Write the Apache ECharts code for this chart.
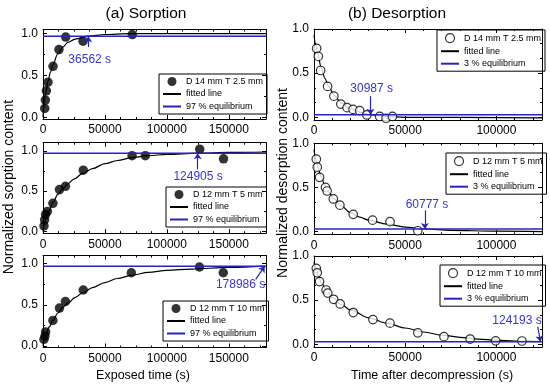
<!DOCTYPE html>
<html><head><meta charset="utf-8">
<script src="https://cdn.jsdelivr.net/npm/echarts@6/dist/echarts.min.js"></script>
<style>html,body{margin:0;padding:0;background:#fff}#c{width:550px;height:388px}</style>
</head><body><div id="c"></div>
<script>
// ---------- DATA ----------
const seriesNames = ['D 14 mm T 2.5 mm', 'D 12 mm T 5 mm', 'D 12 mm T 10 mm'];
const sorpEqName = '97 % equilibrium';
const desEqName = '3 % equilibrium';
const fitName = 'fitted line';
const sorpEqLevel = 0.97;
const desEqLevel = 0.03;
const sorpEqTimes = [36562, 124905, 178986];
const desEqTimes = [30987, 60777, 124193];

// (a) Sorption, D 14 mm T 2.5 mm
const sorp1T = [1400, 1900, 2700, 4000, 8100, 12900, 18300, 32300, 72100];
const sorp1Y = [0.107, 0.206, 0.317, 0.42, 0.61, 0.81, 0.96, 0.91, 0.99];
const sorp1FitT = [0, 1000, 2000, 4000, 6000, 8000, 12000, 16000, 20000, 26000, 36562, 50000, 70000, 180000];
const sorp1FitY = [0, 0.17, 0.28, 0.43, 0.54, 0.63, 0.76, 0.84, 0.895, 0.935, 0.97, 0.99, 1.0, 1.0];

// (a) Sorption, D 12 mm T 5 mm
const sorp2T = [800, 1300, 2100, 3500, 8000, 13300, 18100, 32500, 71900, 82600, 126500, 145700];
const sorp2Y = [0.07, 0.145, 0.21, 0.25, 0.35, 0.52, 0.56, 0.76, 0.94, 0.94, 1.02, 0.90];
const sorp2FitT = [0, 1000, 2500, 5000, 8000, 12000, 16000, 20000, 25000, 32000, 40000, 50000, 60000, 72000, 85000, 100000, 124905, 150000, 180000];
const sorp2FitY = [0, 0.08, 0.16, 0.26, 0.36, 0.46, 0.53, 0.59, 0.65, 0.72, 0.78, 0.84, 0.88, 0.915, 0.94, 0.955, 0.97, 0.98, 0.985];

// (a) Sorption, D 12 mm T 10 mm
const sorp3T = [800, 1600, 2100, 8000, 13300, 18100, 32500, 71300, 126300, 145500];
const sorp3Y = [0.08, 0.12, 0.17, 0.31, 0.46, 0.54, 0.68, 0.89, 0.96, 0.89];
const sorp3FitT = [0, 1000, 2500, 5000, 8000, 12000, 16000, 20000, 26000, 32500, 40000, 50000, 60000, 72000, 85000, 100000, 120000, 150000, 178986];
const sorp3FitY = [0, 0.07, 0.14, 0.23, 0.31, 0.40, 0.47, 0.52, 0.59, 0.65, 0.71, 0.77, 0.82, 0.86, 0.895, 0.92, 0.935, 0.955, 0.97];

// (b) Desorption, D 14 mm T 2.5 mm
const des1T = [1450, 2360, 3630, 7440, 10890, 14700, 18150, 21400, 25050, 29000, 36000, 39500, 43000];
const des1Y = [0.78, 0.69, 0.53, 0.35, 0.24, 0.15, 0.11, 0.09, 0.076, 0.027, 0.01, -0.01, 0.01];
const des1FitT = [0, 1000, 2000, 4000, 6000, 8000, 11000, 15000, 20000, 25000, 30987, 40000, 50000, 125000];
const des1FitY = [0.93, 0.82, 0.72, 0.56, 0.44, 0.35, 0.25, 0.16, 0.10, 0.06, 0.03, 0.01, 0.0, -0.005];

// (b) Desorption, D 12 mm T 5 mm
const des2T = [1260, 1800, 3050, 6300, 7200, 10600, 14200, 21500, 32100, 41700, 56900];
const des2Y = [0.82, 0.73, 0.615, 0.50, 0.46, 0.37, 0.30, 0.196, 0.13, 0.113, 0.01];
const des2FitT = [0, 1000, 2000, 4000, 6000, 8000, 11000, 15000, 20000, 25000, 30000, 40000, 50000, 60777, 75000, 100000, 125000];
const des2FitY = [0.93, 0.82, 0.73, 0.62, 0.52, 0.45, 0.37, 0.29, 0.215, 0.165, 0.13, 0.085, 0.052, 0.03, 0.015, 0.005, 0.0];

// (b) Desorption, D 12 mm T 10 mm
const des3T = [1260, 1800, 3050, 6640, 7540, 10770, 14360, 21540, 32300, 41650, 56900, 71250, 85600, 99600, 114000];
const des3Y = [0.86, 0.81, 0.71, 0.615, 0.58, 0.51, 0.457, 0.36, 0.28, 0.24, 0.13, 0.087, 0.06, 0.04, 0.038];
const des3FitT = [0, 1000, 2000, 4000, 7000, 10000, 15000, 20000, 30000, 40000, 50000, 60000, 70000, 80000, 90000, 100000, 110000, 124193];
const des3FitY = [0.93, 0.86, 0.79, 0.70, 0.60, 0.53, 0.45, 0.39, 0.30, 0.24, 0.185, 0.14, 0.105, 0.08, 0.06, 0.047, 0.037, 0.03];

// ---------- LAYOUT ----------
const FN = "'Liberation Sans',Arial,sans-serif";
const BLUE = '#2424c4';
const BLUE_TXT = '#3535d6';

const zip = (a, b) => a.map((v, i) => [v, b[i]]);

const panels = [
  {g:{left:43,top:29.5,width:223,height:89.5}, xMax:180000, yMin:-0.02, yMax:1.05, leg:{left:159,top:74},
   pts:zip(sorp1T,sorp1Y), fit:zip(sorp1FitT,sorp1FitY), name:seriesNames[0], filled:true, eq:sorpEqLevel, eqName:sorpEqName, eqT:sorpEqTimes[0],
   annText:[37700,0.69], arrowFrom:[36562,0.84]},
  {g:{left:43,top:142.7,width:223,height:90.5}, xMax:180000, yMin:-0.02, yMax:1.1, leg:{left:166,top:187},
   pts:zip(sorp2T,sorp2Y), fit:zip(sorp2FitT,sorp2FitY), name:seriesNames[1], filled:true, eq:sorpEqLevel, eqName:sorpEqName, eqT:sorpEqTimes[1],
   annText:[125200,0.68], arrowFrom:[124905,0.77]},
  {g:{left:43,top:255.5,width:223,height:92}, xMax:180000, yMin:-0.02, yMax:1.1, leg:{left:163,top:301},
   pts:zip(sorp3T,sorp3Y), fit:zip(sorp3FitT,sorp3FitY), name:seriesNames[2], filled:true, eq:sorpEqLevel, eqName:sorpEqName, eqT:sorpEqTimes[2],
   annText:[159500,0.74], arrowFrom:[171700,0.81]},
  {g:{left:314,top:29,width:228,height:91}, xMax:125000, yMin:-0.03, yMax:1.0, leg:{left:437,top:30},
   pts:zip(des1T,des1Y), fit:zip(des1FitT,des1FitY), name:seriesNames[0], filled:false, eq:desEqLevel, eqName:desEqName, eqT:desEqTimes[0],
   annText:[31600,0.32], arrowFrom:[30987,0.24]},
  {g:{left:314,top:143.3,width:228,height:91}, xMax:125000, yMin:-0.03, yMax:1.0, leg:{left:446,top:153},
   pts:zip(des2T,des2Y), fit:zip(des2FitT,des2FitY), name:seriesNames[1], filled:false, eq:desEqLevel, eqName:desEqName, eqT:desEqTimes[1],
   annText:[61950,0.31], arrowFrom:[60777,0.24]},
  {g:{left:314,top:256,width:228,height:91}, xMax:125000, yMin:-0.03, yMax:1.0, leg:{left:440,top:265},
   pts:zip(des3T,des3Y), fit:zip(des3FitT,des3FitY), name:seriesNames[2], filled:false, eq:desEqLevel, eqName:desEqName, eqT:desEqTimes[2],
   annText:[111300,0.27], arrowFrom:[122640,0.20]}
];

const grid = [], xAxis = [], yAxis = [], series = [], legend = [];
const axLine = {show:true, onZero:false, lineStyle:{color:'#000', width:1}};
const hidden = {color:'rgba(0,0,0,0)', borderWidth:0};
panels.forEach((p, i) => {
  grid.push(Object.assign({containLabel:false}, p.g));
  const isLeft = i < 3;
  const xBase = {gridIndex:i, type:'value', min:0, max:p.xMax, splitNumber:3, axisLine:axLine,
    axisTick:{show:true, inside:true, length:4, lineStyle:{color:'#000'}},
    minorTick:{show:true, splitNumber:isLeft?4:5, length:2, lineStyle:{color:'#000'}},
    splitLine:{show:false}, minorSplitLine:{show:false}};
  xAxis.push(Object.assign({}, xBase, {position:'bottom',
    axisLabel:{show:true, color:'#000', fontFamily:FN, fontSize:12, margin:5, showMaxLabel:false, formatter:v => String(Math.round(v))}}));
  xAxis.push(Object.assign({}, xBase, {position:'top', axisLabel:{show:false}}));
  const yBase = {gridIndex:i, type:'value', min:p.yMin, max:p.yMax, splitNumber:2, axisLine:axLine,
    axisTick:{show:true, inside:true, length:4, lineStyle:{color:'#000'}},
    minorTick:{show:true, splitNumber:isLeft?2:3, length:2, lineStyle:{color:'#000'}},
    splitLine:{show:false}, minorSplitLine:{show:false}};
  yAxis.push(Object.assign({}, yBase, {position:'left',
    axisLabel:{show:true, color:'#000', fontFamily:FN, fontSize:12, margin:5, showMinLabel:false, showMaxLabel:!isLeft, formatter:v => v.toFixed(1)}}));
  yAxis.push(Object.assign({}, yBase, {position:'right', axisLabel:{show:false}}));

  const xi = i * 2, yi = i * 2;
  const markerStyle = p.filled ? {color:'#000'} : {color:'#fff', borderColor:'#000', borderWidth:1.2};
  series.push({type:'scatter', name:p.name, xAxisIndex:xi, yAxisIndex:yi, data:p.pts,
    symbol:'circle', symbolSize:p.filled?9.5:8.5, itemStyle:markerStyle, z:3, silent:true});
  series.push({type:'line', name:fitName, xAxisIndex:xi, yAxisIndex:yi, data:p.fit,
    smooth:0.35, smoothMonotone:'x', symbol:'none', lineStyle:{color:'#000', width:1.2}, itemStyle:{color:'#000'}, z:2, silent:true});
  series.push({type:'line', name:p.eqName, xAxisIndex:xi, yAxisIndex:yi, data:[[0, p.eq], [p.xMax, p.eq]],
    symbol:'none', lineStyle:{color:BLUE, width:1.4}, itemStyle:{color:BLUE}, z:4, silent:true,
    markLine:{silent:true, symbol:['none','arrow'], symbolSize:6, label:{show:false},
      lineStyle:{color:BLUE, width:1.2, type:'solid'},
      data:[[{coord:p.arrowFrom}, {coord:[p.eqT, p.eq]}]]},
    markPoint:{silent:true, symbol:'circle', symbolSize:0,
      label:{show:true, position:'inside', color:BLUE_TXT, fontFamily:FN, fontSize:12, formatter:'{b}'},
      data:[{name:p.eqT + ' s', coord:p.annText}]}
  });

  legend.push({orient:'vertical', left:p.leg.left, top:p.leg.top, selectedMode:false,
    borderColor:'#000', borderWidth:1, padding:[3,4,3,3], itemGap:3.5, itemWidth:18, itemHeight:9,
    textStyle:{fontFamily:FN, fontSize:9, color:'#000'},
    data:[{name:p.name, icon:'circle', itemStyle:markerStyle},
          {name:fitName, itemStyle:hidden},
          {name:p.eqName, itemStyle:hidden}]});
});

const graphic = [
  {type:'text', x:146, y:14, style:{text:'(a) Sorption', fontFamily:FN, fontSize:15.5, fill:'#000', textAlign:'center', textVerticalAlign:'middle'}},
  {type:'text', x:397, y:14, style:{text:'(b) Desorption', fontFamily:FN, fontSize:15.5, fill:'#000', textAlign:'center', textVerticalAlign:'middle'}},
  {type:'text', x:143, y:376, style:{text:'Exposed time (s)', fontFamily:FN, fontSize:12.5, fill:'#000', textAlign:'center', textVerticalAlign:'middle'}},
  {type:'text', x:432, y:376, style:{text:'Time after decompression (s)', fontFamily:FN, fontSize:12.5, fill:'#000', textAlign:'center', textVerticalAlign:'middle'}},
  {type:'text', x:9, y:187, rotation:Math.PI/2, style:{text:'Normalized sorption content', fontFamily:FN, fontSize:14, fill:'#000', textAlign:'center', textVerticalAlign:'middle'}},
  {type:'text', x:283, y:183, rotation:Math.PI/2, style:{text:'Normalized desorption content', fontFamily:FN, fontSize:14, fill:'#000', textAlign:'center', textVerticalAlign:'middle'}}
];

const chart = echarts.init(document.getElementById('c'), null, {renderer:'canvas'});
chart.setOption({backgroundColor:'#fff', animation:false, grid, xAxis, yAxis, series, legend, graphic});
</script></body></html>
